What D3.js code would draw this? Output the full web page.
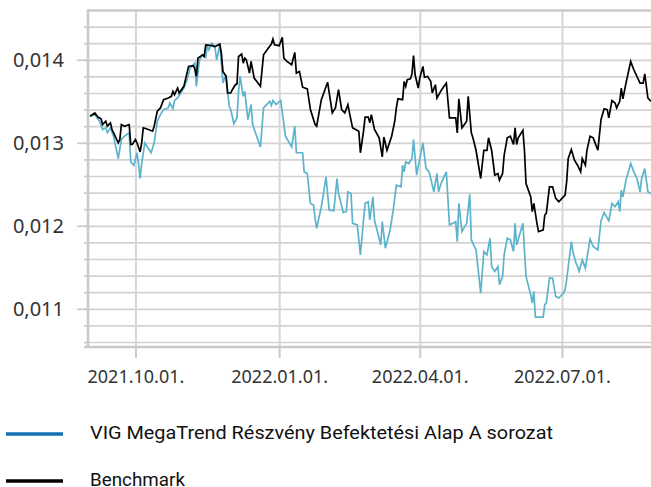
<!DOCTYPE html>
<html>
<head>
<meta charset="utf-8">
<script src="https://cdn.jsdelivr.net/npm/d3@7"></script>
<style>
    html, body { margin: 0; padding: 0; background: #fff; }
    svg { display: block; }
    .ylab text { font-family: "Noto Sans", "Open Sans", sans-serif; font-size: 20px; fill: #333; }
    .xlab text { font-family: "Noto Sans", "Open Sans", sans-serif; font-size: 18px; fill: #333; }
    .legend { font-family: Roboto, "Noto Sans", sans-serif; font-size: 19px; fill: #111; }
</style>
</head>
<body>
<svg id="chart" width="651" height="487"></svg>
<script>
/*-------------------------------------------------------*/
/*------------------------ Data -------------------------*/
/*-------------------------------------------------------*/
const seriesNames = ["VIG MegaTrend Részvény Befektetési Alap A sorozat", "Benchmark"];

const fundDates = [
    "2021-09-02","2021-09-05","2021-09-08","2021-09-10","2021-09-12","2021-09-13","2021-09-15","2021-09-17","2021-09-20","2021-09-22",
    "2021-09-24","2021-09-27","2021-09-28","2021-09-30","2021-10-02","2021-10-03","2021-10-04","2021-10-05","2021-10-07","2021-10-09",
    "2021-10-11","2021-10-13","2021-10-15","2021-10-17","2021-10-19","2021-10-22","2021-10-23","2021-10-25","2021-10-26","2021-10-28",
    "2021-10-30","2021-11-01","2021-11-03","2021-11-05","2021-11-08","2021-11-09","2021-11-11","2021-11-13","2021-11-15","2021-11-16",
    "2021-11-17","2021-11-19","2021-11-21","2021-11-22","2021-11-24","2021-11-25","2021-11-26","2021-11-28","2021-11-30","2021-12-01",
    "2021-12-03","2021-12-05","2021-12-06","2021-12-07","2021-12-09","2021-12-10","2021-12-12","2021-12-14","2021-12-15","2021-12-20",
    "2021-12-22","2021-12-26","2021-12-27","2021-12-28","2021-12-30","2022-01-02","2022-01-05","2022-01-09","2022-01-11","2022-01-12",
    "2022-01-16","2022-01-17","2022-01-19","2022-01-21","2022-01-23","2022-01-24","2022-01-25","2022-01-28","2022-01-31","2022-02-02",
    "2022-02-05","2022-02-07","2022-02-08","2022-02-11","2022-02-13","2022-02-14","2022-02-16","2022-02-17","2022-02-20","2022-02-22",
    "2022-02-24","2022-02-25","2022-02-27","2022-02-28","2022-03-02","2022-03-03","2022-03-07","2022-03-08","2022-03-10","2022-03-13",
    "2022-03-15","2022-03-17","2022-03-20","2022-03-21","2022-03-22","2022-03-23","2022-03-25","2022-03-27","2022-03-28","2022-03-30",
    "2022-04-01","2022-04-03","2022-04-05","2022-04-07","2022-04-10","2022-04-12","2022-04-13","2022-04-15","2022-04-18","2022-04-20",
    "2022-04-24","2022-04-25","2022-04-26","2022-04-28","2022-05-01","2022-05-03","2022-05-04","2022-05-07","2022-05-10","2022-05-12",
    "2022-05-14","2022-05-16","2022-05-17","2022-05-19","2022-05-21","2022-05-22","2022-05-24","2022-05-25","2022-05-27","2022-05-29",
    "2022-05-31","2022-06-01","2022-06-02","2022-06-06","2022-06-08","2022-06-11","2022-06-12","2022-06-13","2022-06-14","2022-06-19",
    "2022-06-20","2022-06-21","2022-06-23","2022-06-25","2022-06-27","2022-06-29","2022-07-02","2022-07-03","2022-07-04","2022-07-07",
    "2022-07-08","2022-07-10","2022-07-11","2022-07-12","2022-07-14","2022-07-16","2022-07-17","2022-07-19","2022-07-21","2022-07-24",
    "2022-07-26","2022-07-28","2022-07-31","2022-08-02","2022-08-04","2022-08-06","2022-08-07","2022-08-08","2022-08-09","2022-08-11",
    "2022-08-14","2022-08-16","2022-08-18","2022-08-20","2022-08-21","2022-08-23","2022-08-25","2022-08-27"
];
const fundValues = [
    0.01332,0.01334,0.01326,0.01316,0.01318,0.01312,0.01318,0.01308,0.01281,0.01304,
    0.01308,0.01312,0.01277,0.01273,0.01288,0.01275,0.01257,0.01275,0.01300,0.01294,
    0.01288,0.01300,0.01326,0.01334,0.01340,0.01342,0.01348,0.01341,0.01351,0.01354,
    0.01360,0.01366,0.01376,0.01390,0.01396,0.01368,0.01400,0.01406,0.01403,0.01417,
    0.01412,0.01420,0.01414,0.01400,0.01418,0.01396,0.01372,0.01382,0.01344,0.01340,
    0.01323,0.01330,0.01362,0.01380,0.01356,0.01362,0.01328,0.01346,0.01322,0.01295,
    0.01342,0.01350,0.01345,0.01351,0.01346,0.01351,0.01308,0.01295,0.01320,0.01288,
    0.01288,0.01265,0.01263,0.01227,0.01225,0.01209,0.01197,0.01223,0.01259,0.01219,
    0.01218,0.01257,0.01239,0.01216,0.01217,0.01241,0.01239,0.01203,0.01201,0.01165,
    0.01207,0.01227,0.01229,0.01207,0.01235,0.01207,0.01177,0.01205,0.01173,0.01195,
    0.01219,0.01249,0.01247,0.01273,0.01265,0.01277,0.01275,0.01281,0.01304,0.01261,
    0.01281,0.01300,0.01269,0.01265,0.01241,0.01263,0.01241,0.01253,0.01265,0.01201,
    0.01205,0.01181,0.01227,0.01193,0.01203,0.01238,0.01183,0.01171,0.01119,0.01169,
    0.01165,0.01185,0.01151,0.01145,0.01151,0.01129,0.01139,0.01165,0.01185,0.01183,
    0.01169,0.01203,0.01177,0.01203,0.01139,0.01117,0.01107,0.01121,0.01090,0.01090,
    0.01105,0.01107,0.01137,0.01137,0.01115,0.01113,0.01119,0.01123,0.01135,0.01181,
    0.01169,0.01155,0.01151,0.01145,0.01159,0.01149,0.01161,0.01184,0.01175,0.01171,
    0.01206,0.01216,0.01206,0.01227,0.01223,0.01229,0.01217,0.01243,0.01235,0.01255,
    0.01275,0.01265,0.01257,0.01241,0.01257,0.01269,0.01241,0.01239
];

const benchDates = [
    "2021-09-02","2021-09-05","2021-09-07","2021-09-09","2021-09-10","2021-09-12","2021-09-13","2021-09-15","2021-09-16","2021-09-18",
    "2021-09-20","2021-09-21","2021-09-22","2021-09-24","2021-09-27","2021-09-28","2021-09-29","2021-10-01","2021-10-02","2021-10-04",
    "2021-10-05","2021-10-06","2021-10-08","2021-10-12","2021-10-13","2021-10-15","2021-10-17","2021-10-19","2021-10-22","2021-10-24",
    "2021-10-25","2021-10-26","2021-10-28","2021-10-29","2021-11-01","2021-11-03","2021-11-04","2021-11-07","2021-11-08","2021-11-09",
    "2021-11-10","2021-11-13","2021-11-14","2021-11-15","2021-11-19","2021-11-21","2021-11-24","2021-11-25","2021-11-26","2021-11-28",
    "2021-11-29","2021-12-01","2021-12-02","2021-12-04","2021-12-05","2021-12-06","2021-12-08","2021-12-09","2021-12-10","2021-12-11",
    "2021-12-13","2021-12-14","2021-12-16","2021-12-20","2021-12-22","2021-12-25","2021-12-27","2021-12-28","2021-12-29","2022-01-01",
    "2022-01-03","2022-01-04","2022-01-06","2022-01-09","2022-01-11","2022-01-12","2022-01-14","2022-01-16","2022-01-19","2022-01-21",
    "2022-01-24","2022-01-25","2022-01-28","2022-02-01","2022-02-04","2022-02-06","2022-02-08","2022-02-10","2022-02-12","2022-02-14",
    "2022-02-15","2022-02-17","2022-02-21","2022-02-22","2022-02-24","2022-02-25","2022-02-27","2022-02-28","2022-03-01","2022-03-03",
    "2022-03-06","2022-03-08","2022-03-09","2022-03-11","2022-03-14","2022-03-16","2022-03-17","2022-03-18","2022-03-21","2022-03-22",
    "2022-03-23","2022-03-24","2022-03-26","2022-03-27","2022-03-28","2022-03-29","2022-03-31","2022-04-01","2022-04-03","2022-04-04",
    "2022-04-06","2022-04-08","2022-04-09","2022-04-11","2022-04-12","2022-04-15","2022-04-18","2022-04-20","2022-04-24","2022-04-25",
    "2022-04-26","2022-04-28","2022-05-01","2022-05-02","2022-05-04","2022-05-05","2022-05-07","2022-05-10","2022-05-12","2022-05-14",
    "2022-05-15","2022-05-17","2022-05-19","2022-05-21","2022-05-22","2022-05-24","2022-05-25","2022-05-27","2022-05-29","2022-05-31",
    "2022-06-01","2022-06-02","2022-06-03","2022-06-06","2022-06-07","2022-06-08","2022-06-11","2022-06-12","2022-06-13","2022-06-15",
    "2022-06-16","2022-06-19","2022-06-20","2022-06-21","2022-06-23","2022-06-25","2022-06-27","2022-06-29","2022-07-01","2022-07-03",
    "2022-07-04","2022-07-05","2022-07-07","2022-07-09","2022-07-11","2022-07-13","2022-07-14","2022-07-16","2022-07-17","2022-07-19",
    "2022-07-21","2022-07-24","2022-07-26","2022-07-28","2022-07-30","2022-07-31","2022-08-02","2022-08-04","2022-08-05","2022-08-07",
    "2022-08-08","2022-08-09","2022-08-11","2022-08-14","2022-08-16","2022-08-20","2022-08-22","2022-08-23","2022-08-25","2022-08-27"
];
const benchValues = [
    0.01332,0.01336,0.01331,0.01329,0.01322,0.01326,0.01320,0.01324,0.01316,0.01308,
    0.01300,0.01304,0.01322,0.01320,0.01322,0.01298,0.01298,0.01304,0.01300,0.01289,
    0.01300,0.01318,0.01317,0.01314,0.01320,0.01338,0.01342,0.01352,0.01354,0.01356,
    0.01362,0.01358,0.01366,0.01360,0.01368,0.01384,0.01392,0.01393,0.01389,0.01380,
    0.01402,0.01406,0.01404,0.01418,0.01417,0.01416,0.01419,0.01408,0.01386,0.01380,
    0.01360,0.01360,0.01364,0.01370,0.01371,0.01404,0.01407,0.01396,0.01402,0.01400,
    0.01384,0.01398,0.01378,0.01368,0.01406,0.01414,0.01419,0.01425,0.01418,0.01417,
    0.01427,0.01402,0.01398,0.01394,0.01409,0.01384,0.01386,0.01367,0.01365,0.01340,
    0.01322,0.01320,0.01352,0.01373,0.01336,0.01342,0.01364,0.01340,0.01336,0.01346,
    0.01336,0.01318,0.01314,0.01288,0.01314,0.01331,0.01331,0.01324,0.01334,0.01316,
    0.01306,0.01283,0.01307,0.01291,0.01308,0.01326,0.01342,0.01353,0.01352,0.01374,
    0.01368,0.01376,0.01377,0.01383,0.01405,0.01382,0.01366,0.01378,0.01392,0.01379,
    0.01380,0.01374,0.01360,0.01370,0.01354,0.01364,0.01372,0.01330,0.01330,0.01312,
    0.01353,0.01318,0.01326,0.01356,0.01312,0.01306,0.01291,0.01257,0.01291,0.01291,
    0.01306,0.01291,0.01261,0.01263,0.01255,0.01263,0.01285,0.01306,0.01308,0.01298,
    0.01318,0.01298,0.01306,0.01315,0.01291,0.01251,0.01235,0.01217,0.01227,0.01203,
    0.01193,0.01195,0.01213,0.01215,0.01247,0.01247,0.01233,0.01229,0.01233,0.01237,
    0.01253,0.01281,0.01292,0.01279,0.01273,0.01265,0.01281,0.01273,0.01291,0.01308,
    0.01306,0.01291,0.01328,0.01341,0.01340,0.01330,0.01351,0.01348,0.01342,0.01350,
    0.01366,0.01353,0.01372,0.01398,0.01388,0.01372,0.01372,0.01383,0.01354,0.01350
];

// axis ticks
const xTickDates = ["2021-10-01", "2022-01-01", "2022-04-01", "2022-07-01"];
const yTickLabels = [0.011, 0.012, 0.013, 0.014];
const yGridValues = [0.0106, 0.0108, 0.0110, 0.0112, 0.0114, 0.0116, 0.0118, 0.0120, 0.0122, 0.0124,
    0.0126, 0.0128, 0.0130, 0.0132, 0.0134, 0.0136, 0.0138, 0.0140, 0.0142, 0.0144];
const xDomain = ["2021-08-31", "2022-08-27"];
const yDomain = [0.01054, 0.0146];

/*-------------------------------------------------------*/
/*------------------- Window setting --------------------*/
/*-------------------------------------------------------*/
const plot = { left: 88, right: 651, top: 10, bottom: 347 };
const parseDate = d3.timeParse("%Y-%m-%d");
const huLocale = d3.formatLocale({ decimal: ",", thousands: " ", grouping: [3], currency: ["", " Ft"] });

const svg = d3.select("#chart");

let x = d3.scaleTime()
    .domain(xDomain.map(parseDate))
    .range([plot.left - 1, plot.right]);

let y = d3.scaleLinear()
    .domain(yDomain)
    .range([plot.bottom, plot.top]);

/*-------------------------------------------------------*/
/*------------------------ Grid -------------------------*/
/*-------------------------------------------------------*/
// horizontal gridlines
svg.append("g")
    .attr("transform", "translate(" + plot.left + ",0)")
    .call(d3.axisLeft(y).tickValues(yGridValues).tickSize(-(plot.right - plot.left)).tickFormat(""))
    .call(g => g.select(".domain").remove())
    .call(g => g.selectAll("line").attr("stroke", "#d2d2d2").attr("stroke-width", 1.7));

// vertical gridlines
svg.append("g")
    .attr("transform", "translate(0," + plot.bottom + ")")
    .call(d3.axisBottom(x).tickValues(xTickDates.map(parseDate)).tickSize(-(plot.bottom - plot.top)).tickFormat(""))
    .call(g => g.select(".domain").remove())
    .call(g => g.selectAll("line").attr("stroke", "#d6d6d6").attr("stroke-width", 2));

// top border
svg.append("line")
    .attr("x1", plot.left - 1).attr("x2", plot.right)
    .attr("y1", y(0.0146) + 0.5).attr("y2", y(0.0146) + 0.5)
    .attr("stroke", "#cacaca").attr("stroke-width", 2.6);

/*-------------------------------------------------------*/
/*------------------------ Axes -------------------------*/
/*-------------------------------------------------------*/
// minor tick stubs
svg.append("g")
    .attr("transform", "translate(" + plot.left + ",0)")
    .call(d3.axisLeft(y).tickValues(yGridValues).tickSize(4).tickFormat(""))
    .call(g => g.select(".domain").remove())
    .call(g => g.selectAll("line").attr("stroke", "#cacaca").attr("stroke-width", 1.7));

// labelled y ticks
svg.append("g")
    .attr("class", "ylab")
    .attr("transform", "translate(" + plot.left + ",0)")
    .call(d3.axisLeft(y).tickValues(yTickLabels).tickSize(11).tickPadding(13)
        .tickFormat(d => huLocale.format(".3f")(d)))
    .call(g => g.select(".domain").remove())
    .call(g => g.selectAll("line").attr("stroke", "#cacaca").attr("stroke-width", 1.7))
    .call(g => g.selectAll("text").attr("fill", "#333"));

// x axis
svg.append("g")
    .attr("class", "xlab")
    .attr("transform", "translate(0," + plot.bottom + ")")
    .call(d3.axisBottom(x).tickValues(xTickDates.map(parseDate)).tickSize(11).tickPadding(12)
        .tickFormat(d3.timeFormat("%Y.%m.%d.")))
    .call(g => g.select(".domain").remove())
    .call(g => g.selectAll("line").attr("stroke", "#cacaca").attr("stroke-width", 2))
    .call(g => g.selectAll("text").attr("fill", "#333"));

// axis lines
svg.append("line")
    .attr("x1", plot.left).attr("x2", plot.left)
    .attr("y1", plot.top - 0.5).attr("y2", plot.bottom + 1)
    .attr("stroke", "#cacaca").attr("stroke-width", 2.6);

svg.append("line")
    .attr("x1", plot.left - 4).attr("x2", plot.right)
    .attr("y1", plot.bottom).attr("y2", plot.bottom)
    .attr("stroke", "#cacaca").attr("stroke-width", 2.6);

/*-------------------------------------------------------*/
/*------------------------ Lines ------------------------*/
/*-------------------------------------------------------*/
const fund = fundDates.map((d, i) => ({ date: parseDate(d), value: fundValues[i] }));
const bench = benchDates.map((d, i) => ({ date: parseDate(d), value: benchValues[i] }));

let line = d3.line()
    .x(d => x(d.date))
    .y(d => y(d.value));

svg.append("path")
    .datum(fund)
    .attr("fill", "none")
    .attr("stroke", "#5cb3cc")
    .attr("stroke-width", 1.7)
    .attr("d", line);

svg.append("path")
    .datum(bench)
    .attr("fill", "none")
    .attr("stroke", "#000")
    .attr("stroke-width", 1.7)
    .attr("d", line);

/*-------------------------------------------------------*/
/*----------------------- Legend ------------------------*/
/*-------------------------------------------------------*/
const legendColors = ["#1570b6", "#000"];
const legendY = [434, 481];
const legendBase = [439, 485.5];
const legendWidths = [463, 95];

seriesNames.forEach((name, i) => {
    svg.append("line")
        .attr("x1", 6).attr("x2", 63)
        .attr("y1", legendY[i]).attr("y2", legendY[i])
        .attr("stroke", legendColors[i])
        .attr("stroke-width", 3.7);
    svg.append("text")
        .attr("class", "legend")
        .attr("x", 90)
        .attr("y", legendBase[i])
        .attr("textLength", legendWidths[i])
        .attr("lengthAdjust", "spacingAndGlyphs")
        .text(name);
});
</script>
</body>
</html>
